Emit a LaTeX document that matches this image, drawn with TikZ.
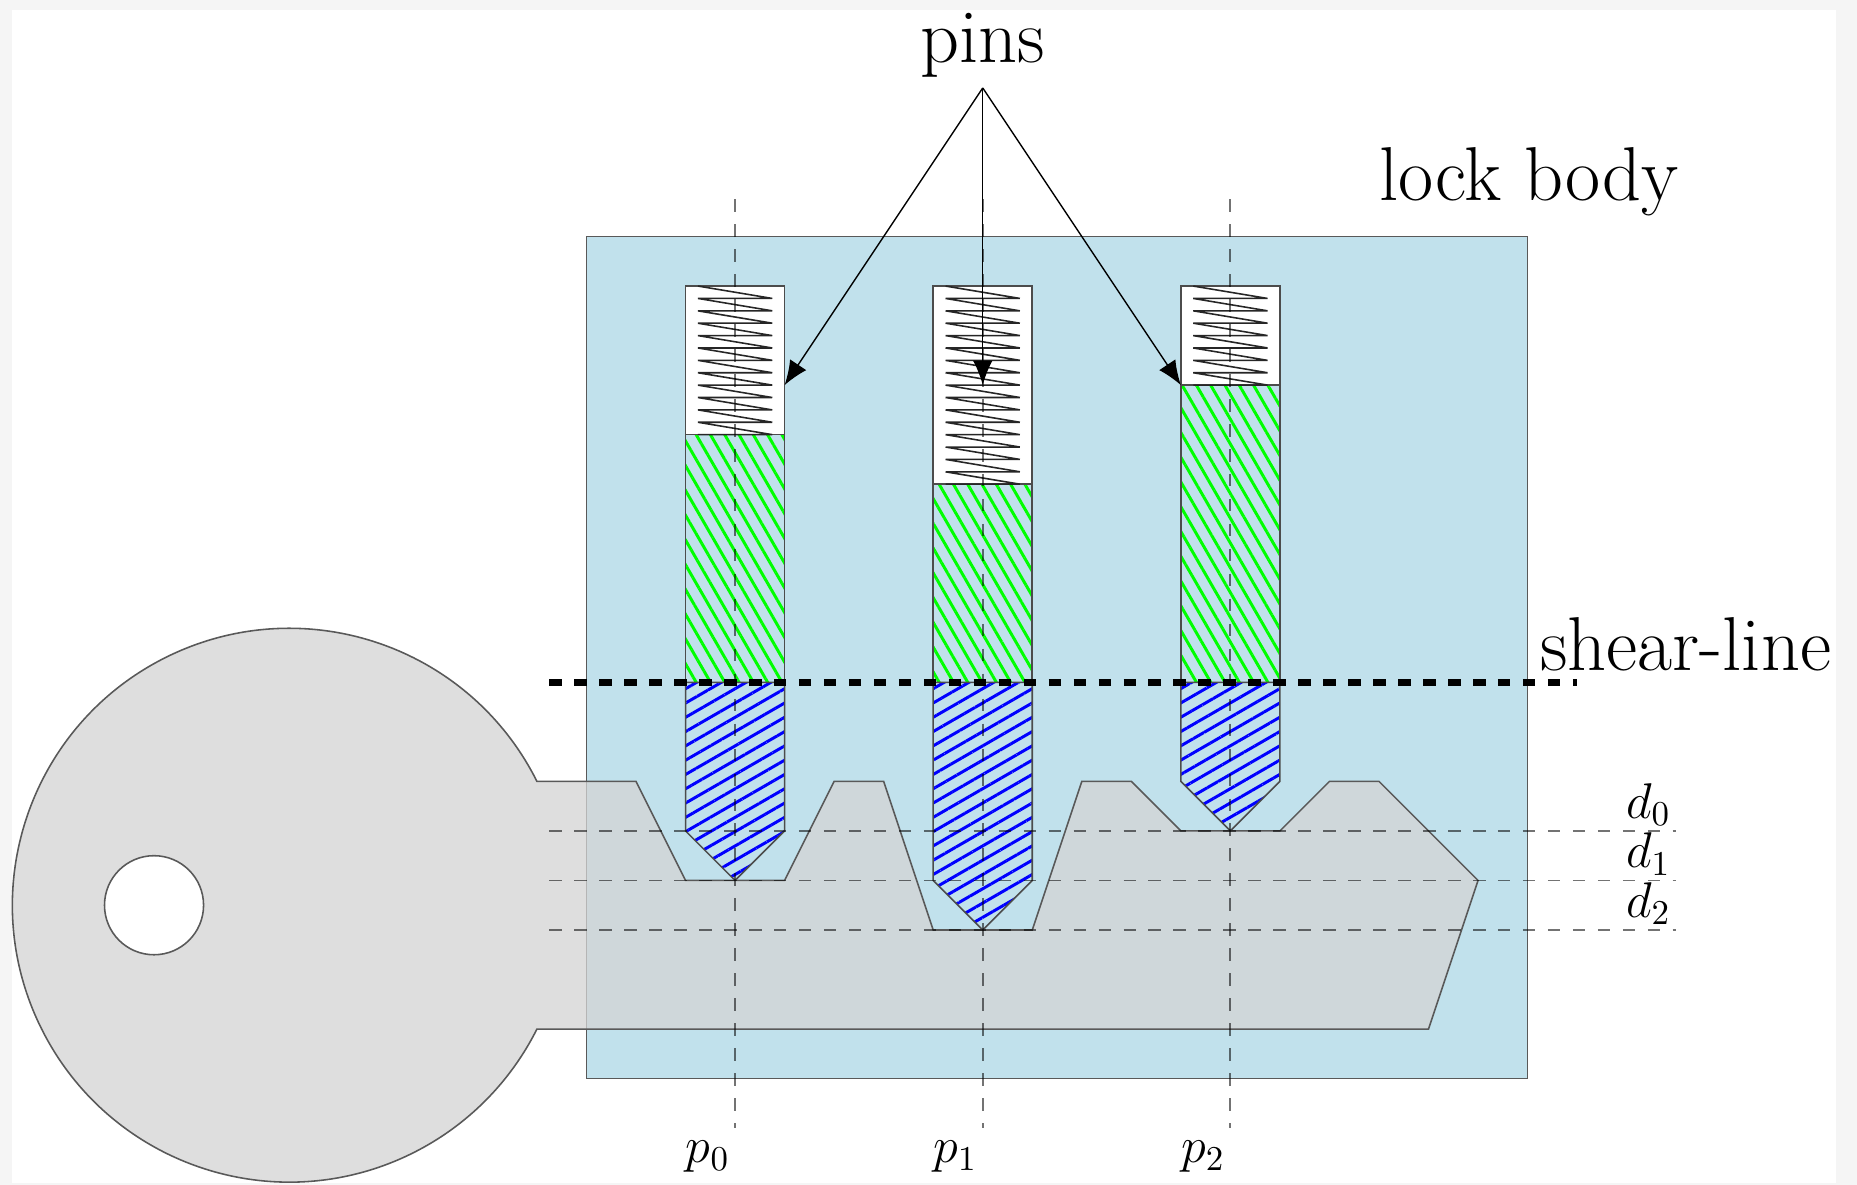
\documentclass[tikz,border=0pt]{standalone}
\usepackage{amsmath,amssymb}
\usetikzlibrary{
  arrows.meta,
  patterns.meta
}
\definecolor{shadowgray}{gray}{0.96}
\definecolor{keygray}{gray}{0.83}
\definecolor{lightblue}{HTML}{ADD8E6}

\begin{document}
\begin{tikzpicture}[
    x=0.4993cm, y=0.4993cm,
    line width=0.45pt,
    bigtext/.style={font=\fontsize{21.9}{26}\selectfont, inner sep=2pt},
    mathtext/.style={font=\Large, inner sep=1.3pt},
    lockbody/.style={draw=black!65, fill=lightblue, fill opacity=0.75},
    keyshape/.style={draw=black!65, fill=keygray, fill opacity=0.75, even odd rule},
    casing/.style={draw=black!70, fill=white},
    topin/.style={draw=black!70, pattern={Lines[angle=-60, distance=3.55pt, line width=0.85pt]}, pattern color=green},
    botpin/.style={draw=black!70, pattern={Lines[angle=30, distance=3.55pt, line width=0.85pt]}, pattern color=blue},
    spring/.style={draw=black!85, line width=0.45pt},
    guide/.style={draw=black, opacity=0.55, line width=0.55pt, dash pattern=on 3.58pt off 3.58pt},
    shear/.style={draw=black, line width=2pt, dash pattern=on 3.58pt off 3.58pt},
    arr/.style={-{Latex[length=7pt, width=5.6pt]}, line width=0.4pt},
  ]
    \useasboundingbox (-11.84,-2.14) rectangle (25.65,21.775);

    %% -- Page --------------------------------------------------
    \fill[shadowgray] (-11.84,-2.14) rectangle (25.65,21.775);
    \fill[white] (-11.6,-2.1) rectangle (25.23,21.57);

    %% -- Lock body ---------------------------------------------
    \path[lockbody] (0,0) rectangle (19,17);

    %% -- Pins and springs --------------------------------------
    \foreach \px/\sy/\ty/\nt in {3/13/4/12, 8/12/3/16, 13/14/5/8} {
      \path[casing] (\px-1,16) rectangle (\px+1,\sy);
      \path[topin] (\px-1,\sy) rectangle (\px+1,8);
      \path[botpin] (\px-1,8) -- (\px+1,8) -- (\px+1,\ty+1) -- (\px,\ty)
        -- (\px-1,\ty+1) -- cycle;
      \draw[spring] (\px-0.75,16) foreach \k in {1,...,\nt} { -- ++(1.5,-0.25) -- ++(-1.5,0) };
    }

    %% -- Key ---------------------------------------------------
    \path[keyshape] (-1,6) arc[start angle=26.565, end angle=333.435, radius=5.59]
      -- (17,1) -- (18,4) -- (16,6) -- (15,6) -- (14,5) -- (12,5) -- (11,6) -- (10,6)
      -- (9,3) -- (7,3) -- (6,6) -- (5,6) -- (4,4) -- (2,4) -- (1,6) -- cycle
      (-8.73,3.5) circle[radius=1];

    %% -- Guide lines -------------------------------------------
    \foreach \pnum/\px in {0/3, 1/8, 2/13} {
      \draw[guide] (\px,17.75) -- (\px,-1);
      \node[mathtext, anchor=north east, inner ysep=3.5pt] (plabel\pnum) at (\px,-1) {$p_{\pnum}$};
    }
    \foreach \dnum/\dy in {0/5, 1/4, 2/3} {
      \draw[guide] (-0.75,\dy) -- (22,\dy);
      \node[mathtext, anchor=south east] (dlabel\dnum) at (22,\dy) {$d_{\dnum}$};
    }
    \draw[shear] (-0.75,8) -- (20,8);

    %% -- Labels ------------------------------------------------
    \node[bigtext, anchor=south, inner sep=2.7pt] (pins) at (8,20) {pins};
    \node[bigtext, anchor=south east] (body) at (22.21,17.25) {lock body};
    \node[bigtext, anchor=south west] (shearlabel) at (19.1,8.06) {shear-line};

    %% -- Arrows ------------------------------------------------
    \coordinate (pin0) at (4,14);
    \coordinate (pin1) at (8,14);
    \coordinate (pin2) at (12,14);
    \draw[arr] (pins.south) -- (pin0);
    \draw[arr] (pins.south) -- (pin1);
    \draw[arr] (pins.south) -- (pin2);
  \end{tikzpicture}
\end{document}
